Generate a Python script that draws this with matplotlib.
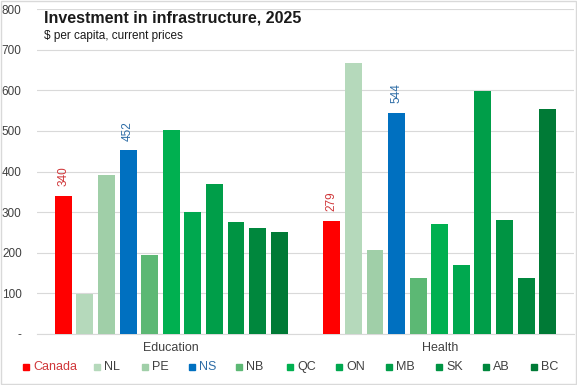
import matplotlib.pyplot as plt
from matplotlib.patches import Rectangle
import numpy as np

plt.rcParams['font.family'] = ['Liberation Sans', 'DejaVu Sans']

categories = ['Education', 'Health']
regions = ['Canada', 'NL', 'PE', 'NS', 'NB', 'QC', 'ON', 'MB', 'SK', 'AB', 'BC']
education = [340, 98, 392, 452, 195, 503, 301, 370, 276, 261, 251]
health = [279, 668, 207, 544, 138, 271, 170, 599, 281, 138, 555]
colors = ['#FF0000', '#B5D9BB', '#A0CFA8', '#0070C0', '#5CB874', '#00B050',
          '#00A84F', '#009E49', '#009443', '#00873D', '#007A36']
labelled = {'Canada': '#D0373A', 'NS': '#2E6DA6'}
yticks = [0, 100, 200, 300, 400, 500, 600, 700, 800]

fig = plt.figure(figsize=(5.77, 3.85), dpi=100)
ax = fig.add_axes([37 / 577, 1 - 334 / 385, 537 / 577, 325 / 385])

n = len(regions)
step = 0.0804
width = 0.063
x = np.arange(len(categories))
values = np.array([education, health])
for i, reg in enumerate(regions):
    pos = x + (i - (n - 1) / 2) * step
    bars = ax.bar(pos, values[:, i], width=width, color=colors[i], zorder=3)
    if reg in labelled:
        for b, v in zip(bars, values[:, i]):
            ax.annotate(str(v), (b.get_x() + b.get_width() / 2, v), xytext=(0, 7),
                        textcoords='offset points', rotation=90, ha='center', va='bottom',
                        fontsize=8.5, color=labelled[reg])

ax.set_xlim(-0.5, 1.5)
ax.set_ylim(0, 800)
ax.set_yticks(yticks)
ax.set_yticklabels(['-' if t == 0 else str(t) for t in yticks], fontsize=8.5, color='#404040')
ax.set_xticks(x)
ax.set_xticklabels(categories, fontsize=9, color='#404040')
ax.tick_params(axis='y', length=0, pad=11)
ax.tick_params(axis='x', length=0, pad=6)
ax.grid(axis='y', color='#D9D9D9', linewidth=0.8, zorder=0)
for s in ['top', 'right', 'left']:
    ax.spines[s].set_visible(False)
ax.spines['bottom'].set_color('#D9D9D9')
ax.spines['bottom'].set_linewidth(0.8)

fig.text(44 / 577, 1 - 18 / 385, 'Investment in infrastructure, 2025', fontsize=11.5,
         fontweight='bold', va='center', ha='left', color='#1a1a1a')
fig.text(44 / 577, 1 - 36 / 385, '$ per capita, current prices', fontsize=8.5,
         va='center', ha='left', color='#1a1a1a')

# legend
legend_x = [26, 97, 145, 192, 239, 290, 339, 389, 439, 486, 534]
ly = 367
for i, reg in enumerate(regions):
    fig.patches.append(Rectangle(((legend_x[i] - 3) / 577, 1 - (ly + 3) / 385), 6 / 577, 6 / 385,
                                 transform=fig.transFigure, color=colors[i], figure=fig))
    fig.text((legend_x[i] + 7) / 577, 1 - ly / 385, reg, fontsize=9, va='center', ha='left',
             color=labelled.get(reg, '#404040'))

fig.patches.append(Rectangle((1 / 577, 1 / 385), 575 / 577, 383 / 385, transform=fig.transFigure,
                             fill=False, edgecolor='#D9D9D9', linewidth=1, figure=fig))

fig.savefig('out.png', dpi=100)
